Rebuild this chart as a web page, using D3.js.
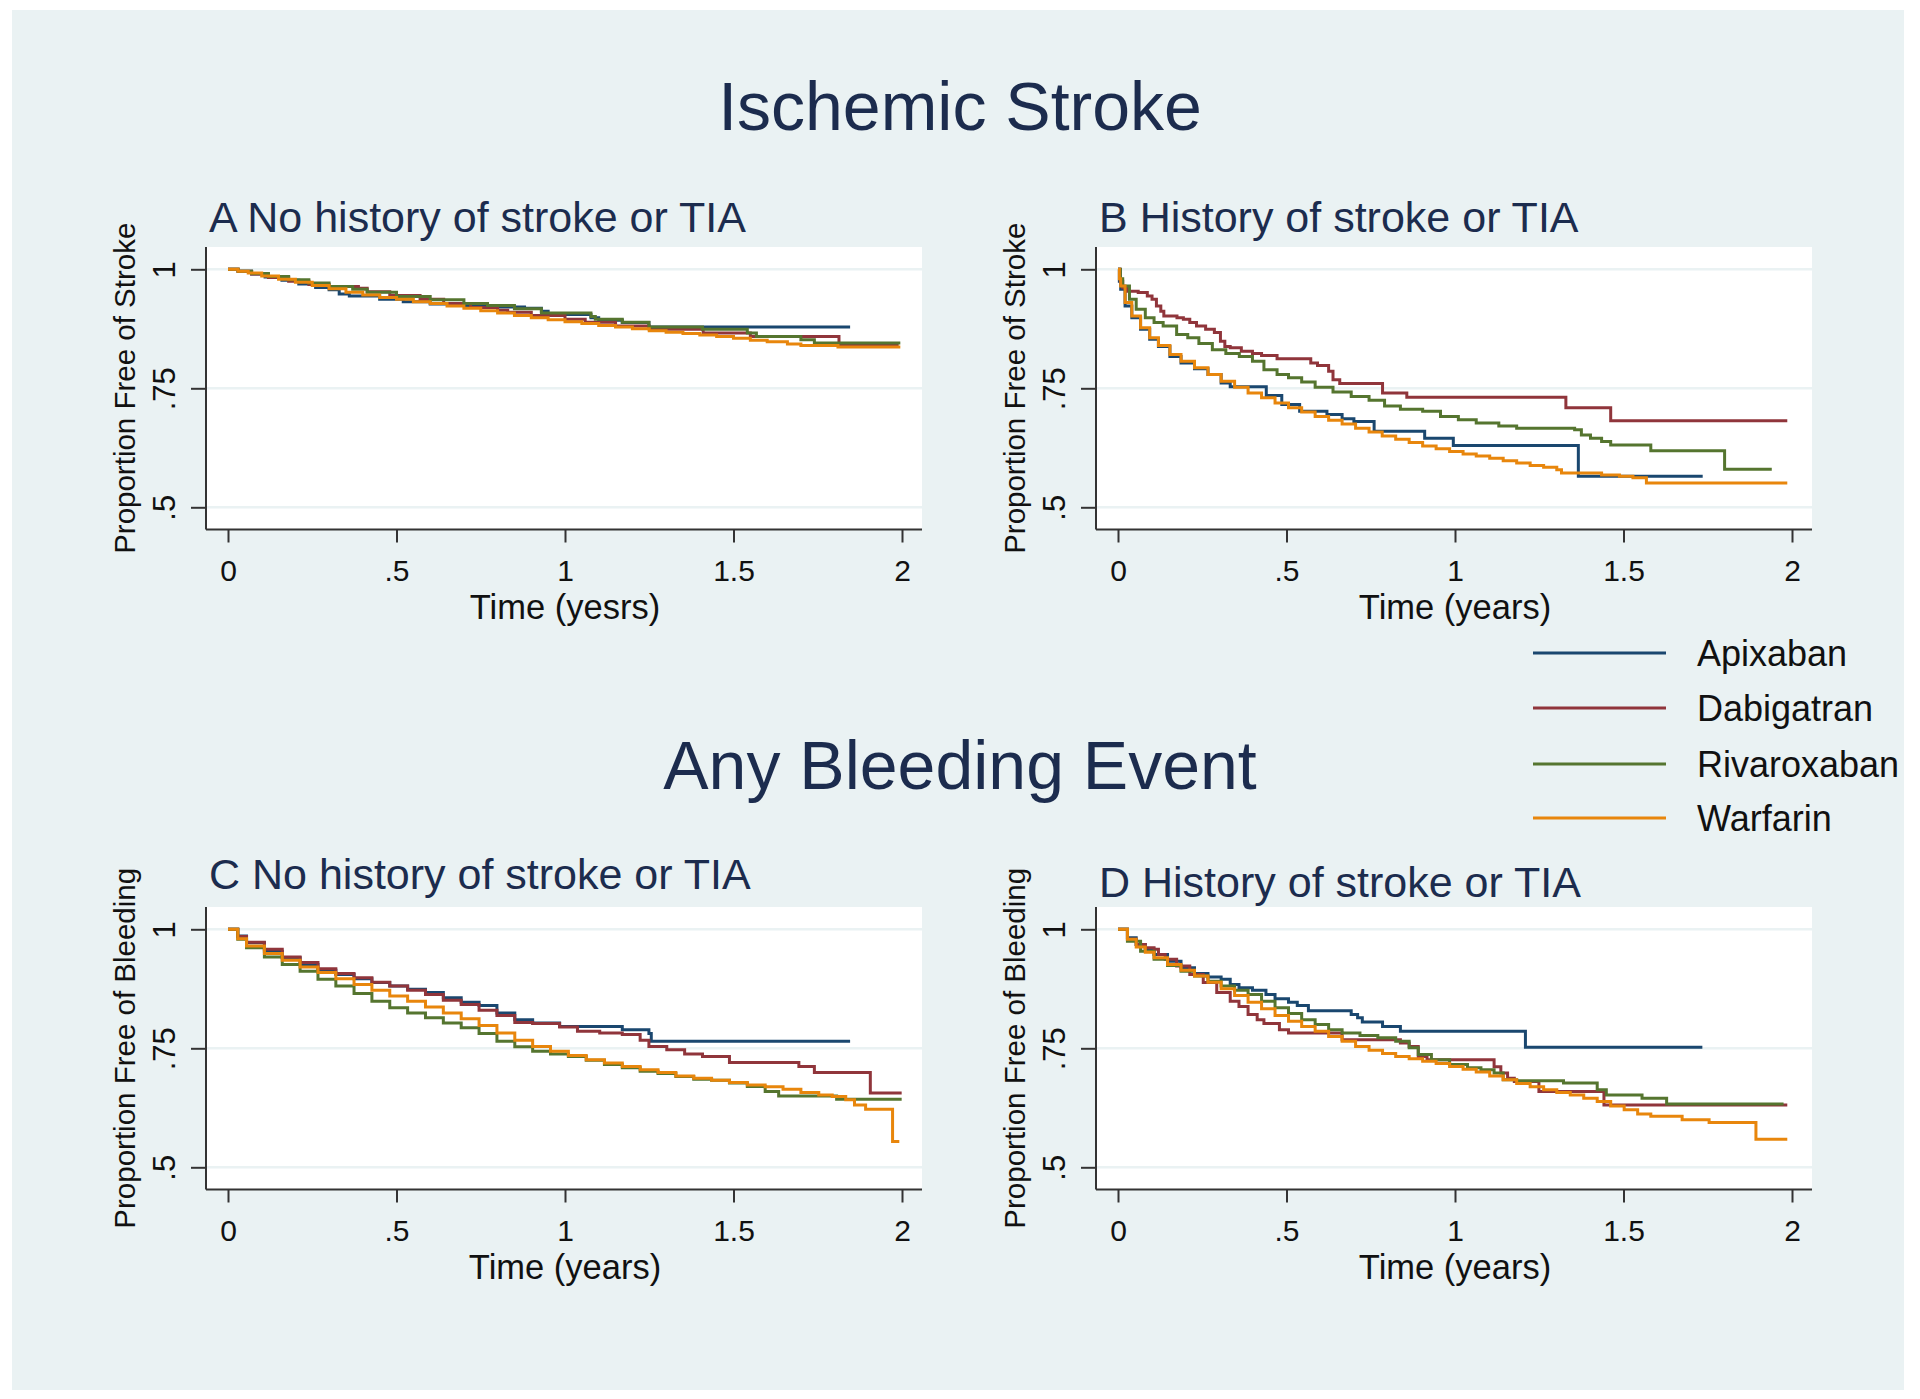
<!DOCTYPE html>
<html><head><meta charset="utf-8">
<script src="https://cdn.jsdelivr.net/npm/d3@7"></script>
<style>
body{margin:0;background:#fff;}
svg{display:block;font-family:"Liberation Sans",Arial,sans-serif;}
</style>
</head><body>
<svg id="chart" width="1920" height="1399"></svg>
<script>
// ---------- DATA ----------
const seriesNames = ["Apixaban","Dabigatran","Rivaroxaban","Warfarin"];
const seriesColors = ["#1a476f","#90353b","#55752f","#e8860c"];
const xTicks = [0, 0.5, 1, 1.5, 2];
const xTickLabels = ["0", ".5", "1", "1.5", "2"];
const yTicks = [0.5, 0.75, 1];
const yTickLabels = [".5", ".75", "1"];
const sectionTitles = ["Ischemic Stroke", "Any Bleeding Event"];
const panelTitles = ["A No history of stroke or TIA","B History of stroke or TIA","C No history of stroke or TIA","D History of stroke or TIA"];
const yTitles = ["Proportion Free of Stroke","Proportion Free of Stroke","Proportion Free of Bleeding","Proportion Free of Bleeding"];
const xTitles = ["Time (yesrs)","Time (years)","Time (years)","Time (years)"];

// Panel A: stroke, no history
const A_apixaban = [[0,1],[0.03,0.996],[0.07,0.99],[0.11,0.984],[0.16,0.977],[0.21,0.969],[0.26,0.962],[0.3,0.957],[0.33,0.948],[0.36,0.944],[0.45,0.937],[0.52,0.932],[0.6,0.927],[0.7,0.924],[0.8,0.921],[0.88,0.918],[0.93,0.912],[0.95,0.905],[1.077,0.898],[1.1,0.893],[1.17,0.888],[1.249,0.879],[1.846,0.879]];
const A_dabigatran = [[0,1],[0.03,0.996],[0.07,0.99],[0.12,0.983],[0.18,0.975],[0.24,0.968],[0.3,0.964],[0.387,0.96],[0.413,0.953],[0.48,0.945],[0.57,0.937],[0.64,0.928],[0.72,0.92],[0.8,0.914],[0.83,0.91],[0.9,0.903],[1.0,0.895],[1.06,0.889],[1.15,0.881],[1.25,0.874],[1.41,0.866],[1.55,0.859],[1.813,0.841],[1.99,0.841]];
const A_rivaroxaban = [[0,1],[0.03,0.996],[0.07,0.991],[0.12,0.985],[0.18,0.978],[0.24,0.971],[0.3,0.964],[0.37,0.958],[0.413,0.952],[0.5,0.943],[0.6,0.936],[0.7,0.928],[0.77,0.924],[0.85,0.917],[0.93,0.908],[1.077,0.901],[1.09,0.895],[1.17,0.889],[1.249,0.879],[1.408,0.874],[1.541,0.866],[1.568,0.859],[1.7,0.852],[1.74,0.845],[1.995,0.845]];
const A_warfarin = [[0,1],[0.03,0.996],[0.06,0.992],[0.1,0.986],[0.15,0.979],[0.2,0.973],[0.25,0.966],[0.3,0.959],[0.35,0.952],[0.4,0.946],[0.45,0.941],[0.5,0.937],[0.55,0.932],[0.6,0.928],[0.65,0.923],[0.7,0.918],[0.75,0.913],[0.8,0.908],[0.85,0.903],[0.9,0.898],[0.95,0.894],[1.0,0.89],[1.05,0.886],[1.1,0.882],[1.15,0.879],[1.2,0.875],[1.25,0.871],[1.3,0.868],[1.35,0.865],[1.4,0.862],[1.45,0.859],[1.5,0.855],[1.55,0.851],[1.6,0.848],[1.66,0.843],[1.7,0.84],[1.81,0.837],[1.995,0.837]];

// Panel B: stroke, history
const B_apixaban = [[0,1],[0.004,0.975],[0.008,0.958],[0.021,0.923],[0.041,0.898],[0.067,0.874],[0.094,0.853],[0.12,0.838],[0.154,0.817],[0.187,0.803],[0.227,0.791],[0.267,0.779],[0.306,0.761],[0.333,0.753],[0.44,0.735],[0.486,0.716],[0.539,0.702],[0.62,0.695],[0.665,0.686],[0.7,0.68],[0.76,0.66],[0.91,0.645],[0.995,0.63],[1.366,0.565],[1.735,0.565]];
const B_dabigatran = [[0,1],[0.007,0.975],[0.014,0.961],[0.027,0.954],[0.06,0.951],[0.087,0.944],[0.101,0.937],[0.114,0.923],[0.127,0.912],[0.136,0.902],[0.175,0.898],[0.194,0.895],[0.213,0.888],[0.233,0.881],[0.26,0.874],[0.286,0.867],[0.304,0.849],[0.317,0.838],[0.333,0.835],[0.366,0.828],[0.399,0.823],[0.426,0.819],[0.472,0.812],[0.572,0.803],[0.592,0.798],[0.625,0.786],[0.638,0.768],[0.658,0.76],[0.785,0.74],[0.857,0.731],[1.329,0.709],[1.462,0.682],[1.986,0.682]];
const B_rivaroxaban = [[0,1],[0.007,0.98],[0.014,0.965],[0.034,0.937],[0.054,0.916],[0.081,0.898],[0.107,0.888],[0.134,0.881],[0.174,0.863],[0.207,0.856],[0.24,0.844],[0.28,0.831],[0.32,0.823],[0.36,0.817],[0.399,0.807],[0.433,0.789],[0.472,0.779],[0.506,0.772],[0.545,0.763],[0.585,0.752],[0.638,0.742],[0.692,0.733],[0.745,0.725],[0.791,0.713],[0.838,0.706],[0.904,0.702],[0.957,0.691],[1.01,0.684],[1.063,0.677],[1.13,0.671],[1.183,0.666],[1.355,0.663],[1.375,0.652],[1.402,0.645],[1.435,0.638],[1.462,0.631],[1.581,0.619],[1.8,0.58],[1.94,0.58]];
const B_warfarin = [[0,1],[0.004,0.98],[0.008,0.965],[0.021,0.93],[0.041,0.902],[0.067,0.877],[0.094,0.856],[0.12,0.84],[0.154,0.821],[0.187,0.807],[0.227,0.793],[0.267,0.779],[0.306,0.765],[0.346,0.752],[0.386,0.74],[0.426,0.73],[0.466,0.719],[0.506,0.709],[0.545,0.7],[0.585,0.691],[0.625,0.683],[0.665,0.675],[0.705,0.666],[0.745,0.658],[0.784,0.65],[0.824,0.643],[0.864,0.636],[0.904,0.629],[0.944,0.623],[0.984,0.617],[1.024,0.612],[1.063,0.608],[1.103,0.603],[1.143,0.598],[1.183,0.593],[1.223,0.588],[1.263,0.584],[1.302,0.579],[1.316,0.572],[1.435,0.568],[1.488,0.565],[1.528,0.562],[1.568,0.551],[1.986,0.551]];

// Panel C: bleeding, no history
const C_apixaban = [[0,1],[0.029,0.986],[0.055,0.972],[0.108,0.954],[0.161,0.94],[0.214,0.926],[0.267,0.914],[0.32,0.905],[0.374,0.896],[0.427,0.888],[0.48,0.881],[0.533,0.874],[0.586,0.867],[0.639,0.856],[0.692,0.847],[0.745,0.84],[0.798,0.824],[0.851,0.81],[0.904,0.803],[0.984,0.796],[1.17,0.789],[1.249,0.781],[1.256,0.765],[1.846,0.765]];
const C_dabigatran = [[0,1],[0.029,0.985],[0.055,0.973],[0.108,0.958],[0.161,0.942],[0.214,0.93],[0.267,0.917],[0.32,0.907],[0.374,0.898],[0.427,0.889],[0.48,0.881],[0.533,0.872],[0.586,0.863],[0.639,0.851],[0.692,0.842],[0.745,0.83],[0.798,0.819],[0.851,0.804],[0.904,0.802],[0.984,0.795],[1.037,0.786],[1.103,0.782],[1.17,0.779],[1.223,0.767],[1.249,0.754],[1.302,0.747],[1.355,0.738],[1.408,0.733],[1.488,0.72],[1.694,0.712],[1.74,0.699],[1.906,0.656],[1.999,0.656]];
const C_rivaroxaban = [[0,1],[0.029,0.979],[0.055,0.961],[0.108,0.942],[0.161,0.926],[0.214,0.912],[0.267,0.895],[0.32,0.881],[0.374,0.865],[0.427,0.849],[0.48,0.835],[0.533,0.824],[0.586,0.814],[0.639,0.803],[0.692,0.793],[0.745,0.781],[0.798,0.765],[0.851,0.753],[0.904,0.744],[0.957,0.738],[1.01,0.733],[1.063,0.725],[1.117,0.716],[1.17,0.709],[1.223,0.702],[1.276,0.697],[1.329,0.691],[1.382,0.685],[1.435,0.683],[1.488,0.677],[1.541,0.67],[1.594,0.659],[1.634,0.65],[1.806,0.643],[1.999,0.643]];
const C_warfarin = [[0,1],[0.029,0.98],[0.055,0.965],[0.108,0.949],[0.161,0.935],[0.214,0.921],[0.267,0.909],[0.32,0.896],[0.374,0.884],[0.427,0.872],[0.48,0.86],[0.533,0.849],[0.586,0.837],[0.639,0.824],[0.692,0.812],[0.745,0.798],[0.798,0.782],[0.851,0.767],[0.904,0.754],[0.957,0.744],[1.01,0.735],[1.063,0.726],[1.117,0.719],[1.17,0.712],[1.223,0.705],[1.276,0.699],[1.329,0.692],[1.382,0.687],[1.435,0.683],[1.488,0.678],[1.541,0.673],[1.594,0.669],[1.647,0.664],[1.7,0.657],[1.753,0.652],[1.793,0.649],[1.833,0.642],[1.859,0.631],[1.892,0.622],[1.972,0.554],[1.992,0.554]];

// Panel D: bleeding, history
const D_apixaban = [[0,1],[0.028,0.982],[0.054,0.968],[0.081,0.958],[0.107,0.947],[0.147,0.933],[0.187,0.919],[0.227,0.907],[0.267,0.9],[0.306,0.895],[0.333,0.884],[0.359,0.877],[0.399,0.872],[0.439,0.863],[0.466,0.854],[0.506,0.847],[0.532,0.84],[0.565,0.829],[0.692,0.821],[0.711,0.814],[0.725,0.805],[0.785,0.796],[0.838,0.786],[1.209,0.752],[1.734,0.752]];
const D_dabigatran = [[0,1],[0.028,0.979],[0.054,0.968],[0.081,0.961],[0.107,0.958],[0.12,0.947],[0.14,0.937],[0.174,0.923],[0.213,0.905],[0.253,0.888],[0.293,0.867],[0.333,0.849],[0.359,0.838],[0.386,0.821],[0.413,0.81],[0.433,0.802],[0.479,0.789],[0.506,0.782],[0.665,0.768],[0.838,0.761],[0.864,0.754],[0.891,0.733],[0.917,0.726],[1.116,0.711],[1.136,0.698],[1.156,0.687],[1.176,0.68],[1.249,0.659],[1.442,0.631],[1.986,0.631]];
const D_rivaroxaban = [[0,1],[0.028,0.975],[0.067,0.954],[0.107,0.937],[0.147,0.924],[0.187,0.912],[0.227,0.902],[0.267,0.891],[0.306,0.881],[0.346,0.872],[0.386,0.863],[0.426,0.849],[0.466,0.835],[0.506,0.823],[0.545,0.81],[0.585,0.8],[0.625,0.789],[0.665,0.782],[0.718,0.777],[0.771,0.772],[0.824,0.765],[0.864,0.751],[0.891,0.737],[0.93,0.726],[0.984,0.716],[1.037,0.709],[1.077,0.705],[1.116,0.698],[1.143,0.684],[1.183,0.682],[1.322,0.677],[1.422,0.663],[1.449,0.652],[1.555,0.645],[1.628,0.633],[1.975,0.633]];
const D_warfarin = [[0,1],[0.028,0.979],[0.054,0.963],[0.081,0.952],[0.107,0.94],[0.147,0.926],[0.187,0.914],[0.227,0.902],[0.267,0.889],[0.306,0.875],[0.346,0.861],[0.386,0.847],[0.426,0.833],[0.466,0.819],[0.506,0.807],[0.545,0.796],[0.585,0.786],[0.625,0.775],[0.665,0.765],[0.705,0.754],[0.745,0.746],[0.785,0.739],[0.824,0.733],[0.864,0.728],[0.904,0.723],[0.944,0.718],[0.984,0.712],[1.024,0.706],[1.063,0.7],[1.103,0.692],[1.143,0.684],[1.183,0.676],[1.223,0.669],[1.263,0.663],[1.302,0.657],[1.342,0.652],[1.382,0.645],[1.422,0.638],[1.462,0.629],[1.502,0.621],[1.542,0.612],[1.581,0.607],[1.674,0.6],[1.754,0.594],[1.893,0.559],[1.986,0.559]];

const panelSeries = [
  [A_apixaban, A_dabigatran, A_rivaroxaban, A_warfarin],
  [B_apixaban, B_dabigatran, B_rivaroxaban, B_warfarin],
  [C_apixaban, C_dabigatran, C_rivaroxaban, C_warfarin],
  [D_apixaban, D_dabigatran, D_rivaroxaban, D_warfarin]
];

// ---------- LAYOUT ----------
const BG = "#eaf2f3";
const NAVY = "#1c2c4e";
const AXIS = "#333";
const panelOffsets = [[0,0],[890,0],[0,660],[890,660]];
const panelTitleY = [232, 232, 889, 897];
const base = {plotL:206, plotR:922, plotT:247, plotB:529.5, x0:228, x1:902, yLo:507.3, yHi:269.3};

const svg = d3.select("#chart");
svg.append("rect").attr("x",12).attr("y",10).attr("width",1892).attr("height",1380).attr("fill",BG);

// section titles
[[sectionTitles[0],130],[sectionTitles[1],789]].forEach(([t,yy])=>{
  svg.append("text").attr("x",960).attr("y",yy).attr("text-anchor","middle")
    .attr("font-size",68).attr("fill",NAVY).text(t);
});

panelSeries.forEach((series, pi)=>{
  const [dx,dy] = panelOffsets[pi];
  const g = svg.append("g").attr("transform",`translate(${dx},${dy})`);
  const x = d3.scaleLinear().domain([0,2]).range([base.x0, base.x1]);
  const y = d3.scaleLinear().domain([0.5,1]).range([base.yLo, base.yHi]);

  // plot region
  g.append("rect").attr("x",base.plotL).attr("y",base.plotT)
    .attr("width",base.plotR-base.plotL).attr("height",base.plotB-base.plotT).attr("fill","#fff");
  // gridlines
  g.selectAll("line.grid").data(yTicks).enter().append("line")
    .attr("x1",base.plotL).attr("x2",base.plotR)
    .attr("y1",d=>y(d)).attr("y2",d=>y(d))
    .attr("stroke",BG).attr("stroke-width",2.5);

  // curves
  const line = d3.line().x(d=>x(d[0])).y(d=>y(d[1])).curve(d3.curveStepAfter);
  series.forEach((s,si)=>{
    g.append("path").attr("d",line(s)).attr("fill","none")
      .attr("stroke",seriesColors[si]).attr("stroke-width",3).attr("stroke-linejoin","miter");
  });

  // x axis
  const xa = g.append("g").attr("transform",`translate(0,${base.plotB})`)
    .call(d3.axisBottom(x).tickValues(xTicks).tickFormat((d,i)=>xTickLabels[i]).tickSize(13).tickSizeOuter(0));
  xa.select(".domain").remove();
  xa.selectAll(".tick line").attr("stroke",AXIS).attr("stroke-width",2);
  xa.selectAll(".tick text").attr("y",51.5).attr("dy",0).attr("font-size",30)
    .attr("fill","#111").attr("font-family","Liberation Sans, Arial, sans-serif");
  g.append("line").attr("x1",base.plotL).attr("x2",base.plotR).attr("y1",base.plotB).attr("y2",base.plotB)
    .attr("stroke",AXIS).attr("stroke-width",2);

  // y axis
  const ya = g.append("g").attr("transform",`translate(${base.plotL},0)`)
    .call(d3.axisLeft(y).tickValues(yTicks).tickFormat((d,i)=>yTickLabels[i]).tickSize(15).tickSizeOuter(0));
  ya.select(".domain").remove();
  ya.selectAll(".tick line").attr("stroke",AXIS).attr("stroke-width",2);
  ya.selectAll(".tick text").attr("x",0).attr("y",0).attr("dy",0)
    .attr("text-anchor","middle").attr("transform","translate(-31,0) rotate(-90)")
    .attr("font-size",31).attr("fill","#111").attr("font-family","Liberation Sans, Arial, sans-serif");
  g.append("line").attr("x1",base.plotL).attr("x2",base.plotL).attr("y1",base.plotT).attr("y2",base.plotB)
    .attr("stroke",AXIS).attr("stroke-width",2);

  // axis titles
  g.append("text").attr("text-anchor","middle").attr("font-size",29.5).attr("fill","#111")
    .attr("transform",`translate(135,${(base.plotT+base.plotB)/2}) rotate(-90)`).text(yTitles[pi]);
  g.append("text").attr("text-anchor","middle").attr("font-size",34.5).attr("fill","#111")
    .attr("x",x(1)).attr("y",619).text(xTitles[pi]);

  // panel title
  svg.append("text").attr("x",base.plotL+dx+3).attr("y",panelTitleY[pi])
    .attr("font-size",43).attr("fill",NAVY).text(panelTitles[pi]);
});

// legend
const legendY = [653, 708, 764, 818];
seriesNames.forEach((n,i)=>{
  svg.append("line").attr("x1",1533).attr("x2",1666).attr("y1",legendY[i]).attr("y2",legendY[i])
    .attr("stroke",seriesColors[i]).attr("stroke-width",3);
  svg.append("text").attr("x",1697).attr("y",legendY[i]+13).attr("font-size",36).attr("fill","#111").text(n);
});
</script>
</body></html>
